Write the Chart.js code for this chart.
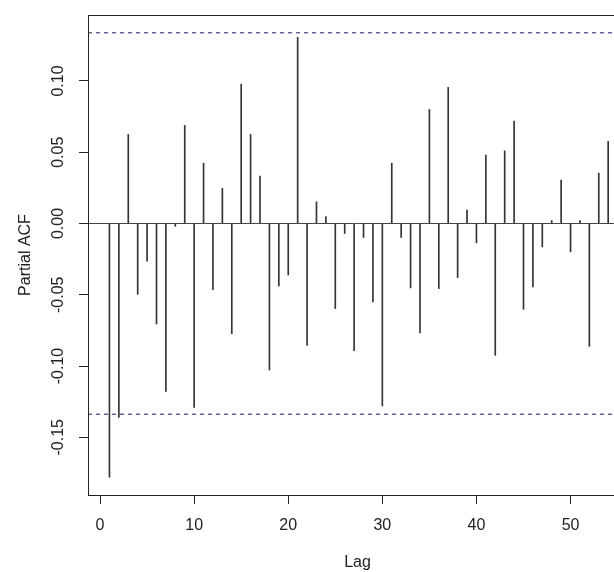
<!DOCTYPE html>
<html>
<head>
<meta charset="utf-8">
<script src="https://cdn.jsdelivr.net/npm/chart.js@4/dist/chart.umd.min.js"></script>
<style>
html, body { margin: 0; padding: 0; background: #fff; overflow: hidden; }
#wrap { width: 614px; height: 572px; overflow: hidden; position: relative; }
canvas { display: block; }
</style>
</head>
<body>
<div id="wrap"><canvas id="c" width="627" height="572"></canvas></div>
<script>
// ---- data ----
const lags = [1,2,3,4,5,6,7,8,9,10,11,12,13,14,15,16,17,18,19,20,21,22,23,24,25,26,27,28,29,30,31,32,33,34,35,36,37,38,39,40,41,42,43,44,45,46,47,48,49,50,51,52,53,54];
const pacfValues = [
  -0.178, -0.136, 0.0625, -0.0497, -0.0265, -0.0705, -0.1178, -0.002, 0.0688, -0.129,
   0.0423, -0.0464, 0.0246, -0.0773, 0.0978, 0.0625, 0.0332, -0.1028, -0.0438, -0.0361,
   0.1306, -0.0855, 0.0152, 0.0049, -0.0597, -0.007, -0.0892, -0.0098, -0.055, -0.128,
   0.0423, -0.0098, -0.0452, -0.0768, 0.080, -0.0457, 0.0955, -0.038, 0.0094, -0.0136,
   0.048, -0.0925, 0.051, 0.0718, -0.0602, -0.0445, -0.0164, 0.0021, 0.0304, -0.0199,
   0.0021, -0.0862, 0.0353, 0.0576
];
const ciLimit = 0.1338;
const xTickValues = [0, 10, 20, 30, 40, 50];
const xTickLabels = ["0", "10", "20", "30", "40", "50"];
const yTickValues = [-0.15, -0.10, -0.05, 0.00, 0.05, 0.10];
const yTickLabels = ["-0.15", "-0.10", "-0.05", "0.00", "0.05", "0.10"];
const xLimits = [-1.28, 56.0];
const yLimits = [-0.1905, 0.1463];
const xTitle = "Lag";
const yTitle = "Partial ACF";

// ---- chart ----
const FONT = '"Liberation Sans", Arial, sans-serif';
const FSIZE = 16;
const INK = '#222';

const barData = lags.map((l, i) => ({ x: l, y: pacfValues[i] }));
const hLine = v => [{ x: xLimits[0], y: v }, { x: xLimits[1], y: v }];

const framePlugin = {
  id: 'frame',
  afterDraw(chart) {
    const { ctx, chartArea: a, scales: { y } } = chart;
    ctx.save();
    ctx.strokeStyle = INK;
    ctx.lineWidth = 1;
    ctx.strokeRect(Math.round(a.left) + 0.5, Math.round(a.top) + 0.5,
                   Math.round(a.right - a.left), Math.round(a.bottom - a.top));
    ctx.fillStyle = INK;
    ctx.font = FSIZE + 'px ' + FONT;
    ctx.textAlign = 'center';
    ctx.textBaseline = 'middle';
    yTickValues.forEach((v, i) => {
      const py = y.getPixelForValue(v);
      ctx.save();
      ctx.translate(59, py);
      ctx.rotate(-Math.PI / 2);
      ctx.fillText(yTickLabels[i], 0, 0);
      ctx.restore();
    });
    ctx.restore();
  }
};

new Chart(document.getElementById('c'), {
  type: 'bar',
  data: {
    datasets: [
      {
        type: 'bar',
        data: barData,
        backgroundColor: '#333',
        borderWidth: 0,
        barThickness: 1,
        order: 2
      },
      {
        type: 'line',
        data: hLine(0),
        borderColor: '#444',
        borderWidth: 1,
        pointRadius: 0,
        order: 1
      },
      {
        type: 'line',
        data: hLine(ciLimit),
        borderColor: '#161680',
        borderWidth: 1,
        borderDash: [4, 4],
        pointRadius: 0,
        order: 0
      },
      {
        type: 'line',
        data: hLine(-ciLimit),
        borderColor: '#161680',
        borderWidth: 1,
        borderDash: [4, 4],
        pointRadius: 0,
        order: 0
      }
    ]
  },
  options: {
    responsive: false,
    animation: false,
    layout: { padding: { top: 15, left: 0, right: 0, bottom: 0 } },
    plugins: { legend: { display: false }, tooltip: { enabled: false } },
    scales: {
      x: {
        type: 'linear',
        min: xLimits[0],
        max: xLimits[1],
        offset: false,
        afterBuildTicks: s => { s.ticks = xTickValues.map(v => ({ value: v })); },
        afterFit: s => { s.height = 77; },
        grid: { display: true, drawOnChartArea: false, drawTicks: true, tickLength: 9, color: INK, offset: false },
        border: { display: false },
        ticks: {
          padding: 12,
          color: INK,
          font: { family: FONT, size: FSIZE },
          maxRotation: 0,
          autoSkip: false,
          callback: (v) => { const i = xTickValues.indexOf(v); return i >= 0 ? xTickLabels[i] : ''; }
        },
        title: {
          display: true,
          text: xTitle,
          color: INK,
          font: { family: FONT, size: FSIZE },
          padding: { top: 0, bottom: 0 }
        }
      },
      y: {
        type: 'linear',
        min: yLimits[0],
        max: yLimits[1],
        afterBuildTicks: s => { s.ticks = yTickValues.map(v => ({ value: v })); },
        afterFit: s => { s.width = 88; },
        grid: { display: true, drawOnChartArea: false, drawTicks: true, tickLength: 9, color: INK },
        border: { display: false },
        ticks: { display: false },
        title: {
          display: true,
          text: yTitle,
          color: INK,
          font: { family: FONT, size: FSIZE },
          padding: { top: 16, bottom: 0 }
        }
      }
    }
  },
  plugins: [framePlugin]
});
</script>
</body>
</html>
